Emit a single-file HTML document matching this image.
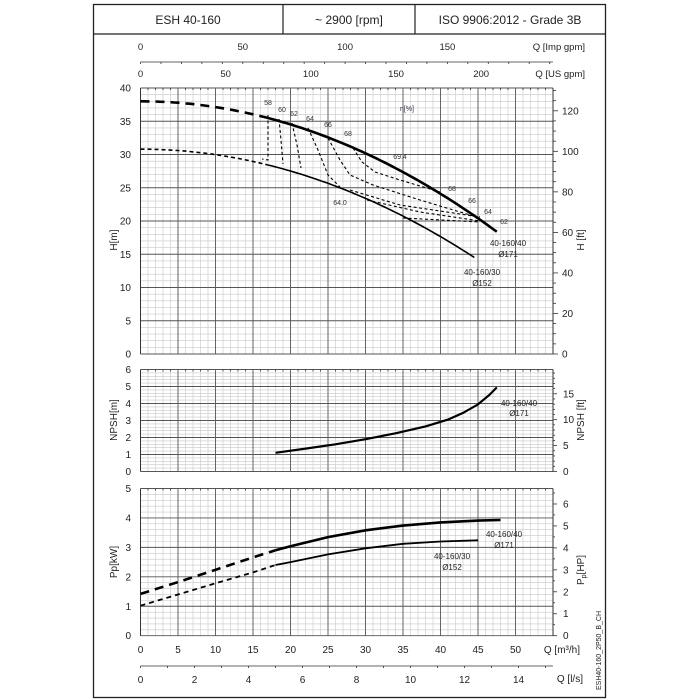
<!DOCTYPE html><html><head><style>body{margin:0;background:#fff}svg{display:block;font-family:"Liberation Sans",sans-serif}</style></head><body>
<svg id="s" width="700" height="700" xmlns="http://www.w3.org/2000/svg"></svg>
<script>
var s=document.getElementById('s'),o='';
var X0=140.5,XS=7.5,XR=553;
function X(q){return X0+q*XS}
function L(x1,y1,x2,y2,c,w,d){o+='<line x1="'+x1+'" y1="'+y1+'" x2="'+x2+'" y2="'+y2+'" stroke="'+c+'" stroke-width="'+w+'"'+(d?' stroke-dasharray="'+d+'"':'')+'/>'}
function T(x,y,t,sz,a,rot,col){o+='<text x="'+x+'" y="'+y+'" font-size="'+sz+'" text-anchor="'+(a||'middle')+'" fill="'+(col||'#222')+'"'+(rot?' transform="rotate(-90 '+x+' '+y+')"':'')+'>'+t+'</text>'}
function P(pts,w,d){var p='M'+pts.map(function(a){return a[0].toFixed(1)+' '+a[1].toFixed(1)}).join(' L');o+='<path d="'+p+'" fill="none" stroke="#000" stroke-width="'+w+'"'+(d?' stroke-dasharray="'+d+'"':'')+'/>'}
function grid(yt,yb,max,minor,major,lbl){var sc=(yb-yt)/max;
 for(var q=0;q<=55;q++){if(q%5)L(X(q),yt,X(q),yb,'#c8c8c8',0.6)}
 for(var v=0;v<=max+1e-6;v+=minor){var y=yb-v*sc;if(Math.abs(v/major-Math.round(v/major))>1e-6)L(X0,y,XR,y,'#c8c8c8',0.6)}
 for(var q=0;q<=55;q+=5)L(X(q),yt,X(q),yb,'#555',0.9);
 for(var v=0;v<=max+1e-6;v+=major){var y=yb-v*sc;L(X0,y,XR,y,'#555',0.9);T(131,y+3.5,Math.round(v),10,'end')}
 L(X0,yt,X0,yb,'#333',1);L(XR,yt,XR,yb,'#333',1);
 for(var q=0;q<=55;q++)L(X(q),yt,X(q),yt+(q%5?2:0),'#333',0.8);
 return function(v){return yb-v*sc}}
// frame
o+='<rect x="93.5" y="4.5" width="512" height="693" fill="none" stroke="#222" stroke-width="1.3"/>';
L(93,34,605,34,'#222',1.2);L(283,4,283,34,'#222',1.2);L(415,4,415,34,'#222',1.2);
T(188,24,'ESH 40-160',12);T(349,24,'~ 2900 [rpm]',12);T(510,24,'ISO 9906:2012 - Grade 3B',12);
// top axes
L(X0,62,XR,62,'#333',0.8);
for(var g=0;g<=200;g+=5){var x=X0+g/3.666*XS;L(x,62,x,g%10?62:64,'#333',0.8)}
[0,50,100,150].forEach(function(g){T(X0+g/3.666*XS,50,g,9.5)});T(585,50,'Q [Imp gpm]',9.5,'end');
[0,50,100,150,200].forEach(function(g){T(X0+g/4.403*XS,77,g,9.5)});T(585,77,'Q [US gpm]',9.5,'end');
// H chart
var H=grid(88,354,40,1,5);
for(var f=0;f<=130;f+=5){var y=H(f/3.281);if(y<88)break;L(XR,y,XR+(f%20?3:5),y,'#333',0.8);if(f%20==0)T(562,y+3.5,f,10,'start')}
T(117,240,'H[m]',10,'middle',1);T(584,240,'H [ft]',10,'middle',1);
function curve(h0,a,q1,q2){var r=[];for(var q=q1;q<=q2+1e-6;q+=0.5)r.push([X(q),H(h0-a*q*q)]);return r}
P(curve(38,0.00869,0,17),2.6,'9 6');P(curve(38,0.00869,17,47.5),2.6);
P(curve(30.8,0.00822,0,17),1.6,'4 3');P(curve(30.8,0.00822,17,44.8),1.6);
var dd='3 2.5';
[[[268,115],[268,160],[262,159]],[[279,119],[281,140],[283,164]],[[292,123],[297,145],[301,168]],
 [[308,128],[318,150],[328,175],[340,187]],[[328,138],[340,160],[350,175],[373,185],[420,200],[480,218]],
 [[353,148],[362,162],[375,172],[400,180],[440,192]],[[350,190],[400,205],[480,217]],[[367,200],[420,212],[480,221]],[[403,218],[480,222]]
].forEach(function(p){P(p,1.1,dd)});
[['58',268,105],['60',282,112],['62',294,116],['64',310,121],['66',328,127],['68',348,136],['69.4',400,159],['68',452,191],['66',472,203],['64',488,214],['62',504,224],['64.0',340,205]].forEach(function(t){T(t[1],t[2],t[0],7,'middle',0,'#334')});
T(407,111,'η[%]',7,'middle',0,'#334');
T(508,246,'40-160/40',8);T(508,257,'Ø171',8);T(482,275,'40-160/30',8);T(482,286,'Ø152',8);
// NPSH
var N=grid(369.5,471.5,6,0.2,1);
for(var f=0;f<=19;f++){var y=N(f/3.281);L(XR,y,XR+(f%5?2:4),y,'#333',0.8);if(f%5==0)T(563,y+3.5,f,10,'start')}
T(117,420,'NPSH[m]',10,'middle',1);T(584,420,'NPSH [ft]',10,'middle',1);
var np=[[18,1.1],[22,1.35],[26,1.6],[30,1.9],[34,2.25],[38,2.65],[41,3.05],[43,3.45],[45,3.95],[46.5,4.5],[47.5,4.95]];
P(np.map(function(a){return [X(a[0]),N(a[1])]}),2.2);
T(519,406,'40-160/40',8);T(519,416,'Ø171',8);
// Power
var W=grid(488.5,635.7,5,0.2,1);
for(var hp=0;hp<=6.5;hp+=0.5){var y=W(hp*0.7457);if(y<488)break;L(XR,y,XR+(hp%1?2:4),y,'#333',0.8);if(hp%1==0)T(563,y+3.5,hp,10,'start')}
T(117,562,'Pp[kW]',10,'middle',1);T(584,570,'P<tspan font-size="7" dy="2">p</tspan><tspan dy="-2">[HP]</tspan>',10,'middle',1);
function sp(a){return a.map(function(p){return [X(p[0]),W(p[1])]})}
P(sp([[0,1.42],[5,1.82],[10,2.24],[15,2.66],[18,2.9]]),2.6,'9 6');
P(sp([[18,2.9],[20,3.04],[25,3.35],[30,3.58],[35,3.74],[40,3.85],[45,3.91],[48,3.93]]),2.6);
P(sp([[0,1.02],[5,1.4],[10,1.78],[15,2.15],[18,2.4]]),1.8,'5 4');
P(sp([[18,2.4],[20,2.5],[25,2.76],[30,2.97],[35,3.12],[40,3.2],[45,3.24]]),1.8);
T(504,537,'40-160/40',8);T(504,548,'Ø171',8);T(452,559,'40-160/30',8);T(452,570,'Ø152',8);
for(var q=0;q<=50;q+=5)T(X(q),653,q,10);T(580,653,'Q [m³/h]',10,'end');
L(X0,666,XR,666,'#333',0.8);
for(var l=0;l<=15;l+=0.5){var x=X(l*3.6);if(x>XR)break;L(x,666,x,l%1?666:668,'#333',0.8);}
for(var l=0;l<=14;l+=2)T(X(l*3.6),683,l,10);T(583,682,'Q [l/s]',10,'end');
T(601,690,'ESH40-160_2P50_B_CH',7,'start',1);
s.innerHTML=o;
</script></body></html>
